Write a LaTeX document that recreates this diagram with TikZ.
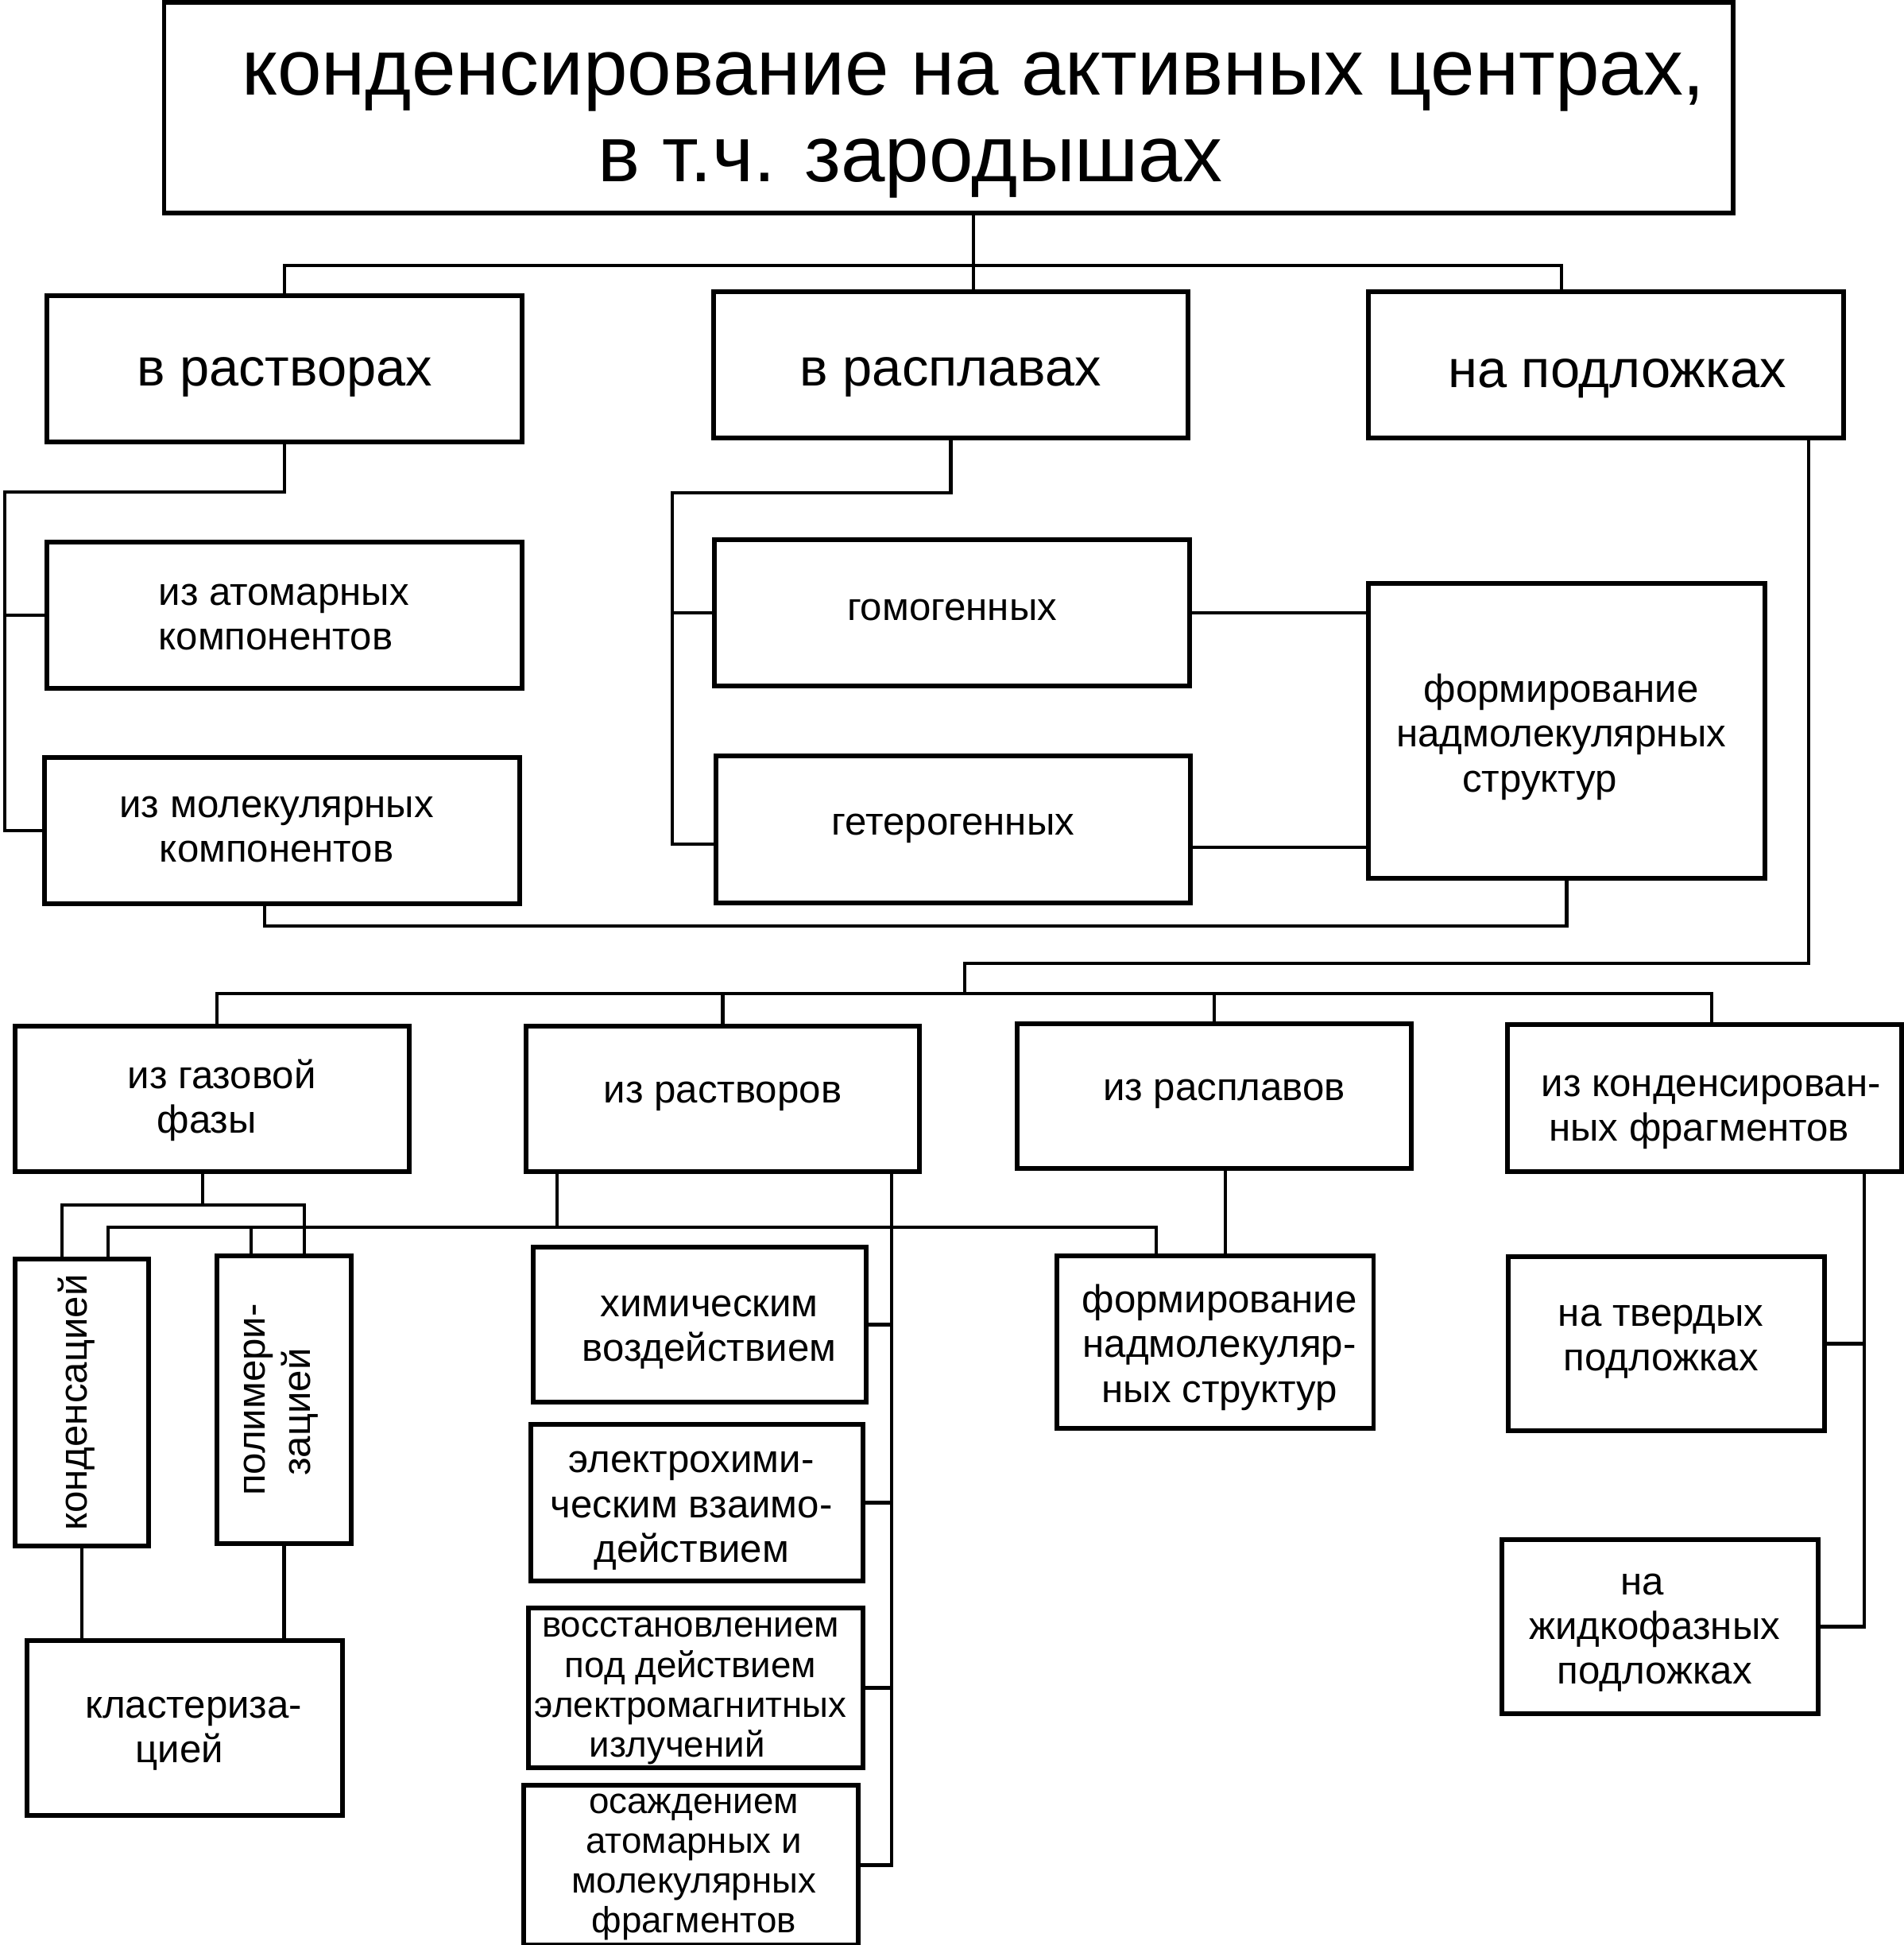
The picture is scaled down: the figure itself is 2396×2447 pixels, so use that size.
\documentclass[tikz,border=0pt]{standalone}
\usepackage{fontspec}
\setmainfont{Liberation Sans}
\usepackage{graphicx}
\newcommand{\lowered}[3][c]{\raisebox{-#2}[\height][\depth]{\begin{tabular}{@{}#1@{}}#3\end{tabular}}}

\begin{document}
\begin{tikzpicture}[
    x=0.1mm,
    y=-0.1mm,
    block/.style={
        draw,
        line width=1.7pt,
        align=center,
        inner sep=2pt,
        font=\fontsize{14pt}{16pt}\selectfont
    },
    tight/.style={
        block,
        inner sep=0pt,
        font=\fontsize{13pt}{14.3pt}\selectfont
    },
    head/.style={
        block,
        font=\fontsize{19pt}{22pt}\selectfont
    },
    title/.style={
        block,
        font=\fontsize{28.4pt}{31pt}\selectfont
    },
    sz/.style 2 args={
        minimum width=#1,
        minimum height=#2
    },
    link/.style={
        line width=1.4pt
    }
]

\useasboundingbox (0,0) rectangle (2396,2447);

\node[title, sz={197.1mm}{26.5mm}] (top) at (1193.5,135.5) {
    \lowered{4.8pt}{\hspace*{9.1mm}конденсирование на активных центрах,\\
    в т.ч. зародышах\hspace*{6.8mm}}
};

\node[head, sz={59.8mm}{18.4mm}] (sol) at (358,464) {\lowered{1.6pt}{в растворах}};
\node[head, sz={59.7mm}{18.4mm}] (melt) at (1196.5,459) {\lowered{3.1pt}{в расплавах}};
\node[head, sz={59.8mm}{18.4mm}] (sub) at (2021,459) {\lowered{3.7pt}{\hspace*{2.8mm}на подложках}};

\node[block, sz={59.8mm}{18.4mm}] (atom) at (358,774) {
    \hspace*{1.2mm}\lowered[l]{1.2pt}{из атомарных\\
    компонентов}
};
\node[block, sz={59.8mm}{18.4mm}] (mol) at (355,1045) {
    \lowered{0pt}{из молекулярных\\
    компонентов}
};
\node[block, sz={59.8mm}{18.4mm}] (homo) at (1198,771) {\lowered{-0.4pt}{гомогенных}};
\node[block, sz={59.7mm}{18.5mm}] (hetero) at (1199.5,1043.5) {\lowered{-1.1pt}{гетерогенных}};
\node[block, sz={49.9mm}{37.1mm}] (supra) at (1971.5,919.5) {
    \lowered{2.6pt}{формирование\\
    надмолекулярных\\
    структур\hspace*{5.4mm}}
};

\node[block, sz={49.6mm}{18.3mm}] (gas) at (267,1382.5) {
    \lowered{1pt}{\hspace*{3.8mm}из газовой\\
    фазы}
};
\node[block, sz={49.5mm}{18.3mm}] (fromsol) at (909.5,1382.5) {\lowered{-1.7pt}{из растворов}};
\node[block, sz={49.6mm}{18.2mm}] (frommelt) at (1528,1379) {\hspace*{2.5mm}\lowered{-1.6pt}{из расплавов}};
\node[block, sz={49.6mm}{18.5mm}] (frag) at (2145,1381.5) {
    \lowered{4.3pt}{\hspace*{3mm}из конденсирован-\\
    ных фрагментов}
};

\node[block, sz={16.8mm}{36.1mm}] (cond) at (103,1764.5) {
    \rotatebox{90}{конденсацией}
};
\node[block, sz={16.9mm}{36.2mm}] (poly) at (357.5,1761) {
    \rotatebox{90}{\begin{tabular}{@{}c@{}}полимери-\\зацией\hspace*{3.1mm}\end{tabular}}
};
\node[block, sz={39.7mm}{22.0mm}] (clust) at (232.5,2174) {
    \lowered{1.2pt}{\hspace*{3.6mm}кластериза-\\
    цией}
};

\node[block, sz={41.9mm}{19.5mm}] (chem) at (880.5,1666.5) {
    \hspace*{3.8mm}\lowered{2pt}{химическим\\
    воздействием}
};
\node[block, sz={41.8mm}{19.7mm}] (echem) at (877,1890.5) {
    \lowered{2.1pt}{электрохими-\\
    ческим взаимо-\\
    действием}
};
\node[tight, sz={42.1mm}{20.1mm}] (emrad) at (875.5,2123.5) {
    \lowered{0.5pt}{восстановлением\\
    под действием\\
    электромагнитных\\
    излучений\hspace*{3.4mm}}
};
\node[tight, sz={42.1mm}{19.5mm}] (depo) at (869.5,2346.5) {
    \hspace*{2mm}\lowered{0pt}{осаждением\\
    атомарных и\\
    молекулярных\\
    фрагментов}
};

\node[block, sz={39.8mm}{21.7mm}] (supra2) at (1529,1688.5) {
    \hspace*{2.5mm}\lowered{2.3pt}{формирование\\
    надмолекуляр-\\
    ных структур}
};

\node[block, sz={39.8mm}{21.9mm}] (solid) at (2097,1690.5) {
    \lowered{-1.4pt}{на твердых\\
    подложках}
};
\node[block, sz={39.8mm}{21.9mm}] (liquid) at (2089,2046.5) {
    \lowered{1.3pt}{на\hspace*{3.1mm}\\
    жидкофазных\\
    подложках}
};

\coordinate (t1) at (1225,334);
\coordinate (t2) at (1965,334);
\draw[link] (top.south -| t1) -- (melt.north -| t1);
\draw[link] (sol.north) |- (t2) -- (sub.north -| t2);

\coordinate (s1) at (6,619);
\draw[link] (sol.south) |- (s1) |- (mol.west);
\draw[link] (s1 |- atom.west) -- (atom.west);

\coordinate (m1) at (846,620);
\coordinate (m2) at (846,1062);
\draw[link] (melt.south) |- (m1) -- (m2) -- (hetero.west |- m2);
\draw[link] (m1 |- homo.west) -- (homo.west);

\coordinate (h1) at (1600,1066);
\draw[link] (homo.east) -- (supra.west |- homo.east);
\draw[link] (hetero.east |- h1) -- (supra.west |- h1);

\coordinate (r1) at (333,1165);
\draw[link] (mol.south -| r1) -- (r1) -| (supra.south);

\coordinate (p1) at (2276,1212);
\coordinate (p2) at (1214,1250);
\coordinate (p3) at (273,1250);
\coordinate (p4) at (2154,1250);
\draw[link] (sub.south -| p1) -- (p1) -| (p2);
\draw[link] (gas.north -| p3) -- (p3) -- (p4) -- (frag.north -| p4);
\draw[link] (fromsol.north |- p3) -- (fromsol.north);
\draw[link] (frommelt.north |- p3) -- (frommelt.north);

\coordinate (g0) at (255,1516);
\coordinate (g1) at (78,1516);
\coordinate (g2) at (383,1516);
\draw[link] (gas.south -| g0) -- (g0);
\draw[link] (cond.north -| g1) -- (g1) -- (g2) -- (poly.north -| g2);

\coordinate (b1) at (136,1544);
\coordinate (b2) at (316,1544);
\coordinate (b3) at (701,1544);
\coordinate (b4) at (1455,1544);
\draw[link] (cond.north -| b1) -- (b1) -- (b4) -- (supra2.north -| b4);
\draw[link] (b2) -- (poly.north -| b2);
\draw[link] (fromsol.south -| b3) -- (b3);

\coordinate (v1) at (1122,0);
\draw[link] (fromsol.south -| v1) -- (depo.east -| v1) -- (depo.east);
\foreach \n in {chem,echem,emrad}
    \draw[link] (\n.east) -- (\n.east -| v1);

\coordinate (f1) at (1542,0);
\draw[link] (frommelt.south -| f1) -- (supra2.north -| f1);

\coordinate (c1) at (2346,0);
\draw[link] (frag.south -| c1) -- (c1 |- liquid.east) -- (liquid.east);
\draw[link] (solid.east) -- (solid.east -| c1);

\draw[link] (cond.south) -- (clust.north -| cond.south);
\draw[link] (poly.south) -- (clust.north -| poly.south);

\end{tikzpicture}
\end{document}
